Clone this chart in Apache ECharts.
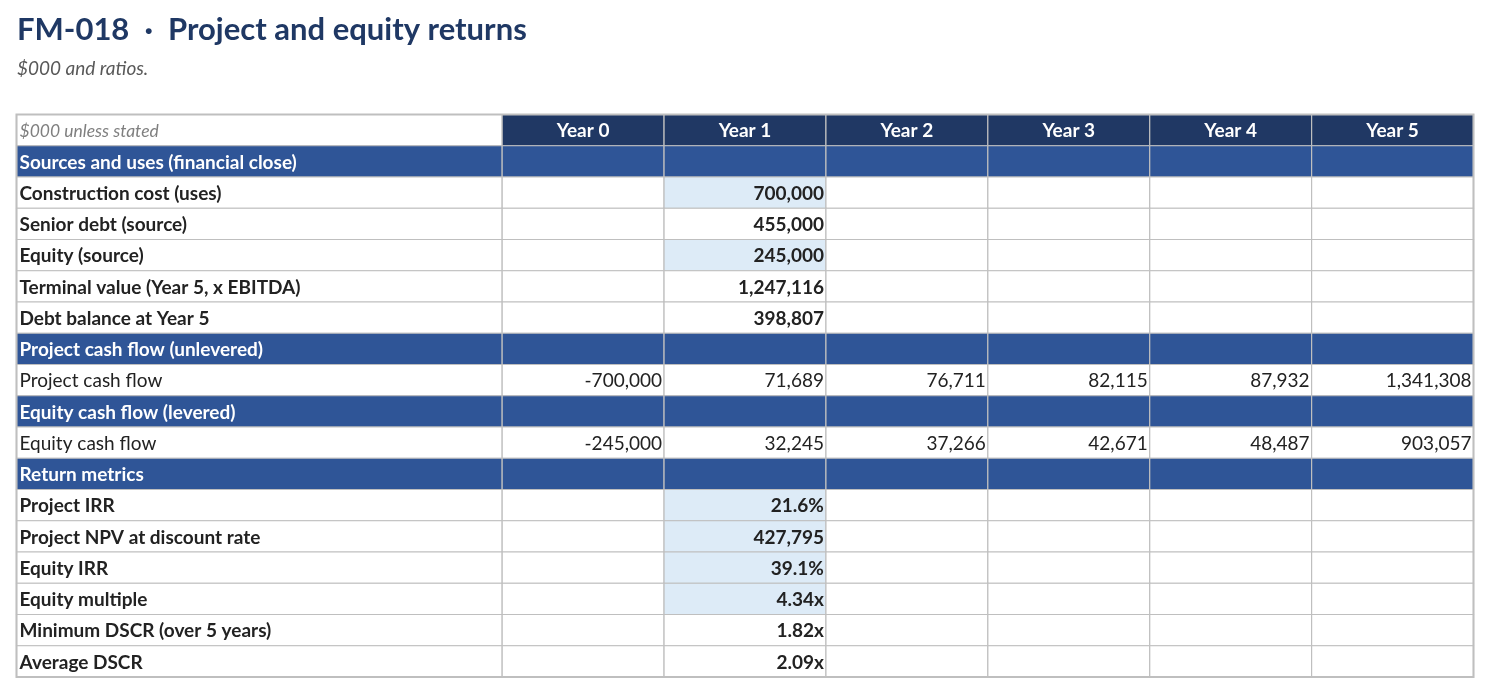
<!DOCTYPE html>
<html>
<head>
<meta charset="utf-8">
<title>FM-018 Project and equity returns</title>
<script src="https://cdn.jsdelivr.net/npm/echarts@6/dist/echarts.min.js"></script>
<style>
  html, body { margin: 0; padding: 0; background: #fff; }
  #chart { width: 1491px; height: 694px; }
</style>
</head>
<body>
<div id="chart"></div>
<script>
// column headings
const years = ["Year 0", "Year 1", "Year 2", "Year 3", "Year 4", "Year 5"];

// sources and uses at financial close (all in Year 1 column)
const sourcesLabels = ["Construction cost (uses)", "Senior debt (source)", "Equity (source)",
  "Terminal value (Year 5, x EBITDA)", "Debt balance at Year 5"];
const sourcesValues = [700000, 455000, 245000, 1247116, 398807];
const sourcesHighlight = [true, false, true, false, false];

// cash flows by year
const projectCashFlow = [-700000, 71689, 76711, 82115, 87932, 1341308];
const equityCashFlow = [-245000, 32245, 37266, 42671, 48487, 903057];

// return metrics (Year 1 column)
const metricLabels = ["Project IRR", "Project NPV at discount rate", "Equity IRR",
  "Equity multiple", "Minimum DSCR (over 5 years)", "Average DSCR"];
const metricValues = [0.216, 427795, 0.391, 4.34, 1.82, 2.09];
const metricFormats = ["pct", "num", "pct", "mult", "mult", "mult"];
const metricHighlight = [true, true, true, true, false, false];

const NAVY = "#203864", SECTION = "#2f5597", HL = "#ddebf7", BORDER = "#bfbfbf";
const FONT = "Lato, 'Open Sans', sans-serif";
const FS = 19;

function fmt(v, kind) {
  if (kind === "pct") return (v * 100).toFixed(1) + "%";
  if (kind === "mult") return v.toFixed(2) + "x";
  return v.toLocaleString("en-US");
}

// build the rows: each has a kind and its cells
const rows = [];
rows.push({ kind: "header", label: "$000 unless stated" });
rows.push({ kind: "section", label: "Sources and uses (financial close)" });
sourcesLabels.forEach((l, i) => rows.push({ kind: "bold", label: l,
  vals: [null, fmt(sourcesValues[i], "num"), null, null, null, null], hl: sourcesHighlight[i] }));
rows.push({ kind: "section", label: "Project cash flow (unlevered)" });
rows.push({ kind: "plain", label: "Project cash flow", vals: projectCashFlow.map(v => fmt(v, "num")) });
rows.push({ kind: "section", label: "Equity cash flow (levered)" });
rows.push({ kind: "plain", label: "Equity cash flow", vals: equityCashFlow.map(v => fmt(v, "num")) });
rows.push({ kind: "section", label: "Return metrics" });
metricLabels.forEach((l, i) => rows.push({ kind: "bold", label: l,
  vals: [null, fmt(metricValues[i], metricFormats[i]), null, null, null, null], hl: metricHighlight[i] }));

// label column spans 3 units, each year one unit
const cells = [];
rows.forEach((r, ri) => {
  if (r.kind === "header") {
    cells.push({ x0: 0, x1: 3, row: ri, text: r.label, fill: "#fff", color: "#7f7f7f",
      weight: "normal", style: "italic", align: "left", size: 17.5 });
    years.forEach((y, ci) => cells.push({ x0: 3 + ci, x1: 4 + ci, row: ri, text: y, fill: NAVY,
      color: "#fff", weight: "bold", style: "normal", align: "center", size: FS }));
  } else if (r.kind === "section") {
    cells.push({ x0: 0, x1: 3, row: ri, text: r.label, fill: SECTION, color: "#fff",
      weight: "bold", style: "normal", align: "left", size: FS });
    years.forEach((y, ci) => cells.push({ x0: 3 + ci, x1: 4 + ci, row: ri, text: "", fill: SECTION }));
  } else {
    const bold = r.kind === "bold";
    cells.push({ x0: 0, x1: 3, row: ri, text: r.label, fill: "#fff", color: "#222",
      weight: bold ? "bold" : "normal", style: "normal", align: "left", size: FS });
    r.vals.forEach((v, ci) => cells.push({ x0: 3 + ci, x1: 4 + ci, row: ri, text: v || "",
      fill: (r.hl && ci === 1) ? HL : "#fff", color: "#222",
      weight: bold ? "bold" : "normal", style: "normal", align: "right", size: FS }));
  }
});

const chart = echarts.init(document.getElementById("chart"), null, { renderer: "canvas" });

const option = {
  animation: false,
  backgroundColor: "#fff",
  title: {
    text: "FM-018  ·  Project and equity returns",
    subtext: "$000 and ratios.",
    left: 12,
    top: 9,
    itemGap: 14,
    textStyle: { fontFamily: FONT, fontSize: 31, fontWeight: "bold", color: "#1f3864" },
    subtextStyle: { fontFamily: FONT, fontSize: 19, fontStyle: "italic", color: "#595959" }
  },
  grid: { left: 16.5, top: 114.5, width: 1457, height: 562.5 },
  xAxis: { type: "value", min: 0, max: 9, show: false },
  yAxis: { type: "category", data: rows.map((r, i) => i), inverse: true, show: false },
  series: [{
    type: "custom",
    clip: false,
    encode: { x: [0, 1], y: 2 },
    data: cells.map(c => [c.x0, c.x1, c.row]),
    renderItem: function (params, api) {
      const c = cells[params.dataIndex];
      const p0 = api.coord([api.value(0), api.value(2)]);
      const p1 = api.coord([api.value(1), api.value(2)]);
      const h = api.size([0, 1])[1];
      const x = p0[0], w = p1[0] - p0[0], y = p0[1] - h / 2;
      const children = [{
        type: "rect",
        shape: { x: x, y: y, width: w, height: h },
        style: { fill: c.fill, stroke: BORDER, lineWidth: 1.2 }
      }];
      if (c.text) {
        let tx = x + 3;
        if (c.align === "right") tx = x + w - 2;
        if (c.align === "center") tx = x + w / 2;
        children.push({
          type: "text",
          style: {
            text: c.text, x: tx, y: p0[1] + 1,
            align: c.align, verticalAlign: "middle",
            textAlign: c.align, textVerticalAlign: "middle",
            fill: c.color,
            font: c.style + " " + c.weight + " " + c.size + "px " + FONT
          }
        });
      }
      return { type: "group", children: children };
    }
  }, {
    // outer frame
    type: "custom",
    clip: false,
    data: [[0, 9]],
    encode: { x: [0, 1] },
    renderItem: function (params, api) {
      const a = api.coord([0, 0]), b = api.coord([9, rows.length - 1]);
      const h = api.size([0, 1])[1];
      return {
        type: "rect",
        shape: { x: a[0], y: a[1] - h / 2, width: b[0] - a[0], height: b[1] - a[1] + h },
        style: { fill: "none", stroke: BORDER, lineWidth: 2 }
      };
    }
  }]
};
chart.setOption(option);
</script>
</body>
</html>
